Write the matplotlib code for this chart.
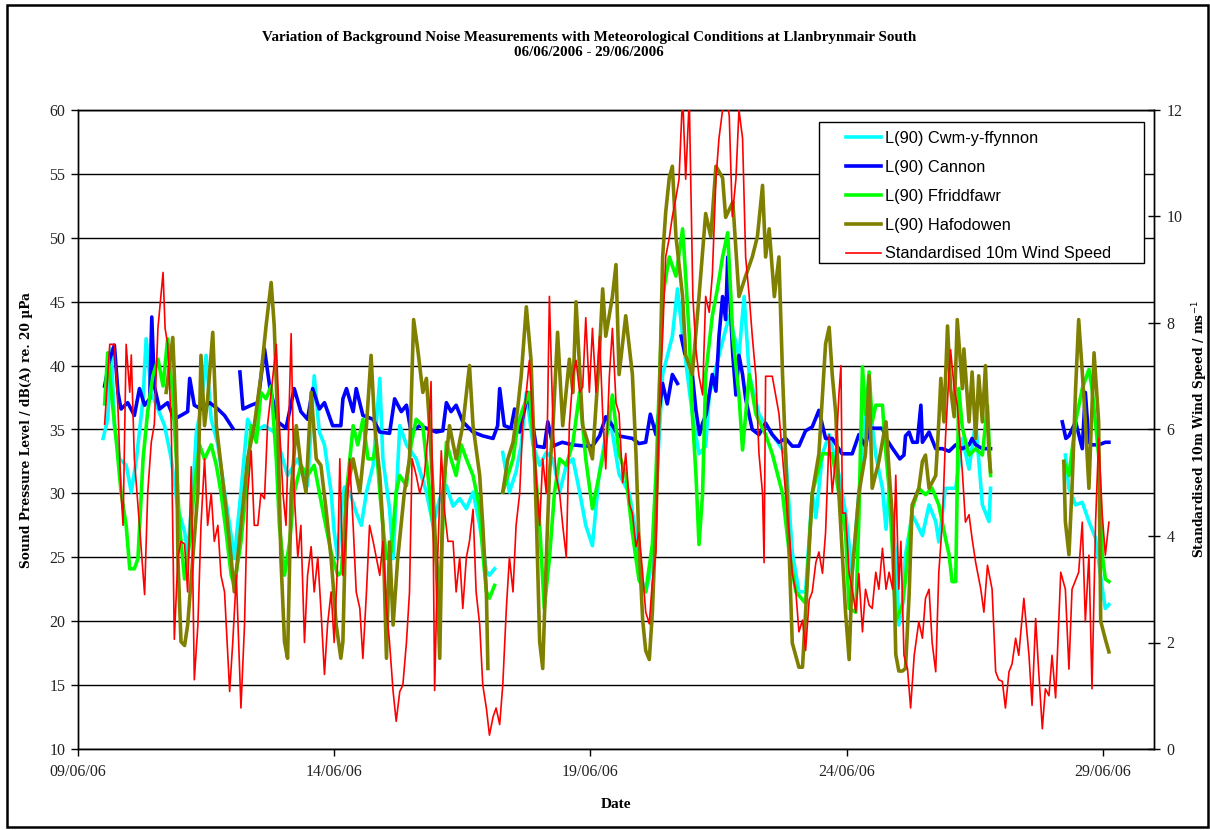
import numpy as np
import matplotlib
matplotlib.use("Agg")
import matplotlib.pyplot as plt
from matplotlib.patches import Rectangle
from matplotlib.ticker import FixedLocator, NullLocator

# ---------------------------------------------------------------------------
# Data: time in days after 09/06/06 00:00, noise in dB(A), wind in m/s.
# None marks a break in the record.
# ---------------------------------------------------------------------------
cwm_day = [0.49, 0.58, 0.65, 0.71, 0.81, 0.94, 1.04, 1.14, 1.27, 1.33, 1.43, 1.56, 1.69, 1.82, 1.95,
           2.08, 2.14, 2.24, 2.31, 2.40, 2.50, 2.60, 2.73, 2.86, 2.96, 3.05, 3.18, 3.31, 3.44, 3.64,
           3.83, 3.96, 4.09, 4.29, 4.48, 4.61, 4.71, 4.81, 4.94, 5.00, 5.07, 5.14, 5.20, 5.30, 5.43,
           5.53, 5.63, 5.76, 5.89, 5.95, 6.08, 6.15, 6.28, 6.41, 6.60, 6.80, 6.93, 7.06, 7.19, 7.32,
           7.45, 7.58, 7.71, 7.84, 7.97, 8.03, 8.13, 8.20, 8.29, 8.42, 8.55, 8.65, 8.75, 8.88, 9.01,
           9.14, 9.27, 9.40, 9.53, 9.66, 9.79, 9.91, 10.04, 10.17, 10.37, 10.56, 10.76, 10.89, 10.95,
           11.08, 11.21, 11.28, 11.41, 11.60, 11.70, 11.80, 11.99, 12.12, 12.25, 12.32, 12.51, 12.71,
           12.90, 13.00, 13.10, 13.29, 13.55, 13.81, 13.94, 14.07, 14.20, 14.33, 14.40, 14.53, 14.66,
           14.85, 14.98, 15.11, 15.24, 15.37, 15.44, 15.57, 15.70, 15.77, 15.83, 15.96, 16.02, 16.09,
           16.15, 16.28, 16.35, 16.48, 16.61, 16.74, 16.80, 16.93, 17.13, 17.26, 17.39, 17.52, 17.65,
           17.78, 17.81, 18.50, 19.27, 19.34, 19.47, 19.60, 19.73, 19.86, 19.99, 20.05, 20.12]
cwm_db = [34.3, 35.8, 41.3, 35.3, 32.7, 32.2, 30.1, 32.7, 37.4, 42.1, 37.9, 36.6, 35.3, 32.7, 28.8,
          27.0, 25.4, 30.1, 34.8, 36.6, 40.8, 35.8, 33.8, 30.1, 27.5, 24.9, 30.1, 35.8, 34.8, 35.3,
          34.8, 33.2, 31.4, 32.7, 30.6, 39.2, 34.8, 33.8, 30.1, 27.0, 24.9, 28.8, 30.5, 30.1, 28.5,
          27.5, 30.1, 32.2, 39.0, 32.7, 28.8, 24.9, 35.3, 33.8, 32.7, 30.1, 27.5, 29.6, 30.6, 29.0,
          29.6, 28.8, 30.1, 27.5, 23.9, 23.6, 24.1, None, 33.2, 30.1, 31.7, 33.8, 37.9, 33.8, 32.2,
          33.2, 32.7, 30.1, 32.2, 32.7, 30.1, 27.5, 25.9, 31.5, 36.2, 31.5, 30.0, 26.9, 23.8,
          22.3, 24.5, 30.0, 39.3, 42.3, 46.0, 42.3, 36.2, 33.1, 33.7, 37.7, 40.8, 43.9,
          40.8, 45.4, 39.3, 36.2, 34.6, 33.1, 25.4, 22.3, 22.3, 30.0, 28.1, 33.1, 34.6,
          31.5, 28.5, 23.8, 30.0, 36.2, 37.4, 33.0, 30.4, 27.2, 30.4, 25.2, 19.7, 21.3,
          25.2, 28.3, 27.8, 26.7, 29.1, 27.8, 26.2, 30.4, 30.4, 34.3, 31.9, 35.6, 29.1,
          27.8, 30.4, None, 33.0, 30.4, 29.1, 29.3, 27.8, 26.5, 22.6, 21.0, 21.3]

cannon_day = [0.52, 0.62, 0.71, 0.78, 0.84, 0.97, 1.10, 1.20, 1.30, 1.40, 1.44, 1.49, 1.59, 1.75, 1.88,
              2.01, 2.14, 2.18, 2.27, 2.40, 2.57, 2.73, 2.86, 3.02, 3.09, 3.16, 3.22, 3.38, 3.51, 3.64,
              3.74, 3.90, 4.06, 4.22, 4.35, 4.48, 4.58, 4.71, 4.81, 4.97, 5.13, 5.17, 5.24, 5.37, 5.43,
              5.56, 5.76, 5.89, 6.08, 6.18, 6.31, 6.41, 6.50, 6.67, 6.99, 7.12, 7.19, 7.28, 7.38, 7.51,
              7.71, 7.90, 8.10, 8.19, 8.23, 8.32, 8.45, 8.52, 8.62, 8.78, 8.94, 9.10, 9.17, 9.27, 9.45,
              9.65, 9.91, 10.04, 10.18, 10.30, 10.40, 10.55, 10.82, 10.95, 11.08, 11.17, 11.28, 11.41,
              11.50, 11.60, 11.70, 11.73, 11.77, 11.84, 11.90, 11.99, 12.06, 12.13, 12.19, 12.26, 12.38,
              12.45, 12.51, 12.58, 12.64, 12.68, 12.74, 12.78, 12.84, 12.90, 12.97, 13.03, 13.16, 13.29,
              13.42, 13.55, 13.68, 13.81, 13.94, 14.07, 14.20, 14.33, 14.46, 14.59, 14.72, 14.91, 15.11,
              15.24, 15.37, 15.44, 15.57, 15.70, 15.77, 15.90, 16.04, 16.12, 16.15, 16.22, 16.29, 16.38,
              16.45, 16.48, 16.61, 16.74, 16.87, 17.00, 17.13, 17.26, 17.39, 17.45, 17.52, 17.65, 17.75,
              17.81, 18.50, 19.21, 19.28, 19.34, 19.47, 19.60, 19.66, 19.73, 19.79, 19.92, 20.05, 20.12]
cannon_db = [38.4, 40.5, 41.6, 37.9, 36.6, 37.1, 36.1, 38.2, 36.9, 37.4, 43.8, 38.4, 36.6, 37.1, 35.8,
             36.1, 36.4, 39.0, 36.9, 36.6, 37.1, 36.6, 36.1, 35.1, None, 39.5, 36.6, 36.9, 37.1, 41.3,
             38.4, 35.6, 35.1, 38.2, 36.4, 35.8, 38.2, 36.6, 37.1, 35.3, 35.3, 37.4, 38.2, 36.4, 38.2,
             36.1, 35.8, 34.8, 34.7, 37.4, 36.4, 36.9, 34.8, 35.3, 34.8, 34.9, 37.1, 36.4, 36.9, 35.6,
             34.8, 34.5, 34.3, 35.3, 38.2, 35.3, 35.1, 36.6, 34.8, 37.9, 33.7, 33.6, 35.6, 33.7, 34.0,
             33.8, 33.7, 33.7, 34.5, 36.0, 35.5, 34.5, 34.3, 33.9, 34.0, 36.2, 34.6, 38.6,
             37.0, 39.3, 38.6, None, 42.3, 41.0, None, 39.3, 36.5, 34.6, 35.5, 36.2, 39.3,
             38.0, 42.3, 45.4, 43.6, 48.5, 43.9, 40.8, 37.7, 40.8, 39.3, 37.4, 35.0, 34.6,
             35.5, 34.6, 34.0, 34.3, 33.7, 33.7, 34.9, 35.2, 36.5, 34.3, 34.3, 33.1, 33.1,
             34.6, 33.7, 35.1, 35.1, 35.1, 34.3, 33.5, 32.7, 33.0, 34.5, 34.8, 34.0, 34.0,
             36.9, 34.0, 34.8, 33.5, 33.5, 33.3, 33.8, 33.5, 33.8, 34.3, 33.8, 33.5, 33.5,
             33.5, None, 35.6, 34.3, 34.5, 35.6, 33.5, 37.9, 34.0, 33.8, 33.8, 34.0, 34.0]

ffr_day = [0.52, 0.58, 0.65, 0.75, 0.84, 0.94, 1.01, 1.10, 1.17, 1.27, 1.36, 1.46, 1.56, 1.66, 1.75,
           1.85, 1.92, 1.98, 2.08, 2.18, 2.27, 2.37, 2.47, 2.60, 2.70, 2.79, 2.89, 2.99, 3.05, 3.18,
           3.25, 3.38, 3.48, 3.57, 3.67, 3.77, 3.87, 3.93, 4.03, 4.13, 4.22, 4.35, 4.48, 4.61, 4.71,
           4.81, 4.94, 5.07, 5.14, 5.24, 5.37, 5.46, 5.56, 5.66, 5.76, 5.82, 5.89, 5.95, 6.02, 6.11,
           6.21, 6.28, 6.41, 6.50, 6.60, 6.73, 6.83, 6.93, 6.99, 7.06, 7.12, 7.19, 7.28, 7.38, 7.48,
           7.58, 7.71, 7.84, 7.90, 7.97, 8.03, 8.13, 8.20, 8.29, 8.39, 8.49, 8.58, 8.68, 8.81, 8.91,
           9.01, 9.10, 9.20, 9.30, 9.40, 9.53, 9.66, 9.79, 9.91, 10.04, 10.17, 10.30, 10.43, 10.56,
           10.69, 10.82, 10.95, 11.08, 11.21, 11.28, 11.41, 11.54, 11.67, 11.80, 11.86, 11.93, 11.99,
           12.06, 12.12, 12.19, 12.25, 12.38, 12.48, 12.58, 12.68, 12.78, 12.90, 12.97, 13.10, 13.23,
           13.42, 13.55, 13.75, 13.88, 14.01, 14.20, 14.33, 14.53, 14.72, 14.85, 14.98, 15.05, 15.18,
           15.24, 15.31, 15.37, 15.44, 15.50, 15.57, 15.70, 15.77, 15.83, 15.90, 15.96, 16.09, 16.15,
           16.28, 16.41, 16.54, 16.67, 16.80, 16.93, 17.00, 17.06, 17.13, 17.19, 17.26, 17.39, 17.52,
           17.65, 17.75, 17.81, 18.50, 19.24, 19.34, 19.47, 19.60, 19.73, 19.79, 19.92, 19.99, 20.05,
           20.12]
ffr_db = [37.0, 41.0, 37.9, 34.0, 30.1, 27.5, 24.1, 24.1, 24.9, 32.7, 36.4, 39.2, 40.5, 38.4, 42.1,
          37.4, 32.7, 27.5, 23.3, 26.2, 30.4, 33.8, 32.7, 33.8, 32.2, 30.1, 27.0, 23.6, 22.8, 26.2,
          29.0, 35.3, 34.0, 37.9, 37.4, 38.4, 32.7, 27.5, 23.6, 26.2, 30.1, 32.2, 31.4, 32.2, 30.1,
          28.0, 25.4, 23.6, 23.8, 30.1, 35.3, 33.8, 35.8, 32.7, 32.7, 33.8, 30.1, 27.5, 24.9, 25.4,
          30.1, 31.4, 30.6, 33.8, 35.8, 35.3, 31.4, 27.5, 24.9, 22.3, 27.5, 34.0, 32.7, 31.4, 33.8,
          32.7, 31.4, 28.8, 25.4, 22.3, 21.8, 22.8, None, 30.1, 31.4, 32.7, 35.3, 36.6, 37.9, 32.7,
          27.5, 21.0, 24.9, 30.1, 32.7, 32.2, 34.0, 37.9, 32.7, 28.8, 31.4, 34.0, 37.7, 33.1,
          31.5, 26.9, 23.2, 22.3, 26.0, 31.5, 45.4, 48.5, 47.0, 50.7, 47.0, 42.3, 36.2,
          31.5, 26.0, 30.0, 39.3, 43.9, 46.0, 48.5, 50.4, 42.3, 37.7, 33.4, 39.3, 36.2,
          34.6, 33.1, 30.0, 25.4, 22.3, 21.4, 30.0, 33.1, 33.1, 30.0, 26.9, 21.0, 20.7,
          28.0, 39.9, 36.2, 39.5, 35.6, 36.9, 36.9, 33.0, 30.4, 25.2, 20.0, 21.3, 23.3,
          28.8, 30.4, 29.9, 30.4, 29.1, 26.5, 25.2, 23.1, 23.1, 38.2, 35.1, 33.0, 33.5,
          33.0, 36.9, 31.4, None, 32.5, 31.4, 35.6, 38.2, 39.7, 38.2, 33.0, 25.2, 23.3,
          23.1]

haf_day = [1.72, 1.85, 1.92, 1.95, 2.01, 2.08, 2.14, 2.24, 2.34, 2.40, 2.47, 2.53, 2.63, 2.70, 2.79,
           2.89, 2.99, 3.05, 3.18, 3.31, 3.44, 3.57, 3.67, 3.77, 3.83, 3.90, 3.96, 4.03, 4.09, 4.16,
           4.26, 4.35, 4.45, 4.55, 4.65, 4.74, 4.84, 4.94, 5.04, 5.13, 5.17, 5.24, 5.37, 5.50, 5.63,
           5.72, 5.79, 5.89, 5.95, 6.02, 6.08, 6.15, 6.24, 6.37, 6.47, 6.55, 6.63, 6.73, 6.80, 6.86,
           6.93, 6.99, 7.06, 7.12, 7.25, 7.38, 7.51, 7.64, 7.71, 7.84, 7.90, 7.97, 8.00, 8.15, 8.29,
           8.39, 8.49, 8.58, 8.65, 8.75, 8.84, 8.91, 8.95, 9.01, 9.07, 9.14, 9.20, 9.27, 9.36, 9.46,
           9.59, 9.66, 9.72, 9.85, 9.95, 10.04, 10.17, 10.24, 10.30, 10.43, 10.50, 10.56, 10.69,
           10.82, 10.89, 10.95, 11.02, 11.08, 11.15, 11.21, 11.28, 11.34, 11.41, 11.47, 11.54, 11.60,
           11.67, 11.80, 11.86, 11.99, 12.12, 12.25, 12.35, 12.45, 12.58, 12.64, 12.78, 12.90, 13.03,
           13.16, 13.26, 13.36, 13.42, 13.49, 13.59, 13.68, 13.75, 13.81, 13.88, 13.94, 14.07, 14.14,
           14.20, 14.33, 14.46, 14.59, 14.66, 14.72, 14.79, 14.85, 14.98, 15.05, 15.11, 15.24, 15.37,
           15.44, 15.50, 15.63, 15.77, 15.83, 15.90, 15.96, 16.02, 16.09, 16.15, 16.22, 16.28, 16.41,
           16.48, 16.54, 16.61, 16.74, 16.80, 16.84, 16.90, 16.97, 17.03, 17.10, 17.16, 17.26, 17.29,
           17.39, 17.45, 17.52, 17.58, 17.65, 17.71, 17.78, 17.81, 18.50, 19.24, 19.27, 19.34, 19.40,
           19.47, 19.53, 19.60, 19.66, 19.73, 19.83, 19.92, 19.96, 20.05, 20.12]
haf_db = [37.9, 42.2, 35.3, 24.9, 18.4, 18.1, 19.7, 24.9, 30.1, 40.8, 35.3, 37.4, 42.6, 35.3, 32.2,
          28.8, 24.9, 22.3, 27.5, 32.7, 35.3, 39.2, 43.1, 46.5, 43.1, 35.3, 24.9, 18.4, 17.1, 30.1,
          35.3, 32.2, 30.1, 37.9, 32.7, 32.2, 28.8, 24.9, 19.7, 17.1, 18.4, 30.1, 32.7, 30.1, 35.3,
          40.8, 35.3, 31.4, 27.5, 17.1, 26.2, 19.7, 24.9, 30.1, 32.7, 43.6, 41.3, 37.9, 39.0, 35.3,
          30.1, 24.9, 17.1, 30.1, 35.3, 32.7, 35.3, 40.0, 35.3, 31.4, 27.5, 22.3, 16.3, None, 30.1,
          32.7, 34.0, 36.6, 39.2, 44.6, 40.5, 32.7, 27.5, 18.4, 16.3, 24.9, 31.4, 35.3, 42.6, 35.3,
          40.5, 37.9, 45.0, 35.3, 34.0, 32.7, 40.5, 46.0, 42.3, 45.4, 47.9, 39.3, 43.9,
          39.3, 33.1, 26.0, 20.1, 17.7, 17.0, 20.7, 28.0, 36.2, 48.5, 52.0, 54.7, 55.6,
          50.1, 45.4, 40.8, 39.3, 45.4, 51.9, 50.1, 55.6, 54.7, 51.6, 52.8, 45.4, 47.0,
          48.5, 50.1, 54.1, 48.5, 50.7, 45.4, 48.5, 39.3, 33.1, 25.4, 18.3, 16.4, 16.4,
          20.7, 30.0, 33.1, 41.7, 43.0, 39.3, 36.2, 30.0, 20.7, 17.0, 23.8, 30.0, 33.1,
          39.2, 30.4, 32.5, 35.6, 31.7, 27.8, 17.4, 16.1, 16.1, 16.3, 22.0, 29.1, 30.4,
          32.5, 33.0, 30.4, 31.4, 35.6, 39.0, 35.6, 43.1, 38.2, 36.0, 43.6, 38.2, 41.3,
          35.6, 39.5, 34.3, 39.2, 35.6, 40.0, 33.0, 31.7, None, 32.5, 27.8, 25.2, 30.4,
          38.2, 43.6, 39.5, 35.6, 30.4, 41.0, 35.6, 20.0, 18.6, 17.6]

wind_day = [0.52, 0.62, 0.71, 0.78, 0.84, 0.88, 0.94, 1.01, 1.04, 1.10, 1.20, 1.30, 1.36, 1.43, 1.49,
            1.56, 1.66, 1.70, 1.75, 1.82, 1.88, 1.95, 2.01, 2.08, 2.14, 2.21, 2.27, 2.34, 2.40, 2.47,
            2.53, 2.60, 2.66, 2.73, 2.79, 2.86, 2.96, 3.02, 3.09, 3.18, 3.25, 3.31, 3.38, 3.44, 3.51,
            3.57, 3.64, 3.70, 3.77, 3.87, 3.93, 4.00, 4.06, 4.16, 4.22, 4.29, 4.35, 4.42, 4.48, 4.55,
            4.61, 4.68, 4.74, 4.81, 4.87, 4.94, 5.00, 5.07, 5.11, 5.17, 5.24, 5.30, 5.37, 5.43, 5.50,
            5.56, 5.63, 5.69, 5.76, 5.82, 5.89, 5.95, 6.02, 6.08, 6.15, 6.21, 6.28, 6.34, 6.41, 6.47,
            6.52, 6.60, 6.67, 6.76, 6.85, 6.89, 6.93, 6.96, 7.02, 7.09, 7.15, 7.22, 7.32, 7.38, 7.45,
            7.51, 7.58, 7.64, 7.71, 7.77, 7.84, 7.90, 7.97, 8.03, 8.10, 8.16, 8.23, 8.29, 8.36, 8.42,
            8.49, 8.55, 8.62, 8.68, 8.75, 8.81, 8.88, 8.94, 9.01, 9.07, 9.14, 9.20, 9.27, 9.33, 9.40,
            9.46, 9.53, 9.59, 9.66, 9.72, 9.79, 9.85, 9.91, 9.98, 10.04, 10.11, 10.18, 10.24, 10.30,
            10.37, 10.43, 10.50, 10.56, 10.63, 10.69, 10.76, 10.82, 10.89, 10.95, 11.02, 11.08, 11.15,
            11.21, 11.28, 11.34, 11.41, 11.47, 11.54, 11.60, 11.67, 11.73, 11.80, 11.86, 11.93, 12.00,
            12.06, 12.12, 12.19, 12.25, 12.32, 12.38, 12.45, 12.51, 12.58, 12.64, 12.71, 12.77, 12.84,
            12.90, 12.97, 13.03, 13.10, 13.16, 13.23, 13.29, 13.36, 13.39, 13.42, 13.55, 13.68, 13.81,
            13.88, 13.94, 14.01, 14.07, 14.14, 14.20, 14.27, 14.33, 14.40, 14.46, 14.53, 14.59, 14.66,
            14.72, 14.79, 14.85, 14.89, 14.92, 14.98, 15.05, 15.11, 15.18, 15.24, 15.31, 15.37, 15.44,
            15.50, 15.57, 15.63, 15.70, 15.77, 15.83, 15.90, 15.96, 16.02, 16.06, 16.12, 16.19, 16.25,
            16.32, 16.41, 16.48, 16.54, 16.61, 16.67, 16.74, 16.80, 16.87, 16.93, 17.00, 17.03, 17.10,
            17.16, 17.26, 17.32, 17.39, 17.45, 17.52, 17.62, 17.68, 17.75, 17.84, 17.91, 17.97, 18.04,
            18.10, 18.17, 18.23, 18.30, 18.36, 18.46, 18.56, 18.62, 18.69, 18.75, 18.82, 18.88, 18.95,
            19.01, 19.08, 19.18, 19.27, 19.34, 19.40, 19.53, 19.60, 19.66, 19.73, 19.79, 19.86, 19.92,
            19.99, 20.05, 20.12]
wind_ms = [6.1, 7.6, 7.6, 6.4, 4.8, 4.2, 7.6, 6.7, 7.4, 5.45, 4.2, 2.9, 4.8, 5.76, 6.1,
           7.9, 8.95, 7.9, 7.6, 6.1, 2.06, 3.6, 3.9, 3.85, 2.95, 5.3, 1.3, 2.33, 4.2, 5.45,
           4.2, 4.8, 3.9, 4.2, 3.26, 2.95, 1.08, 2.0, 3.26, 0.77, 2.33, 4.8, 5.6, 4.2, 4.2,
           4.8, 4.7, 6.1, 6.7, 7.6, 6.1, 4.8, 4.2, 7.8, 4.8, 3.6, 4.2, 2.0, 3.26, 3.8,
           2.95, 3.6, 2.64, 1.4, 2.33, 2.95, 2.0, 3.6, 5.45, 3.26, 4.2, 5.45, 4.2, 2.95, 2.64,
           1.7, 2.95, 4.2, 3.9, 3.6, 3.26, 3.9, 2.64, 2.0, 1.08, 0.52, 1.08, 1.2, 2.0, 2.95,
           5.45, 5.14, 4.8, 5.14, 6.1, 6.9, 4.2, 1.1, 3.6, 5.6, 4.5, 3.9, 3.9, 2.95, 3.6,
           2.64, 3.6, 3.9, 4.5, 2.95, 2.33, 1.2, 0.77, 0.26, 0.6, 0.77, 0.46, 1.2, 2.64, 3.6,
           2.95, 4.2, 4.8, 6.1, 6.7, 7.3, 6.1, 5.14, 4.2, 5.45, 4.8, 8.5, 6.1, 5.14, 4.8,
           4.2, 3.6, 6.1, 7.0, 7.3, 6.7, 6.8, 8.1, 6.7, 7.9, 6.7, 7.75, 6.3, 5.26,
           7.0, 7.9, 6.5, 6.3, 5.0, 5.55, 4.6, 4.43, 3.8, 4.06, 3.3, 2.57, 2.35,
           3.16, 3.7, 6.3, 7.75, 9.24, 9.6, 10.0, 10.35, 10.7, 12.3, 10.7, 12.2, 8.5,
           7.5, 7.0, 6.65, 8.5, 8.2, 8.9, 10.7, 11.47, 12.0, 12.3, 11.9, 10.0, 10.7,
           12.0, 11.47, 9.24, 8.5, 7.75, 7.0, 5.55, 4.8, 3.5, 7.0, 7.0, 6.3, 4.8,
           4.06, 3.3, 2.95, 2.2, 2.42, 1.85, 2.8, 2.95, 3.5, 3.7, 3.3, 4.06, 5.9,
           4.8, 5.5, 6.65, 7.2, 4.43, 4.43, 3.3, 3.0, 2.57, 3.3, 2.2, 3.0, 2.7,
           2.64, 3.32, 3.0, 3.77, 3.0, 3.32, 3.0, 5.14, 3.0, 3.9, 1.76, 1.5, 0.77,
           1.76, 2.39, 2.08, 2.83, 3.0, 2.0, 1.45, 3.32, 4.26, 5.83, 7.08, 7.5, 6.77,
           6.46, 5.2, 4.26, 4.4, 3.95, 3.5, 3.0, 2.57, 3.45, 3.0, 1.45, 1.3, 1.27,
           0.77, 1.45, 1.6, 2.08, 1.76, 2.83, 1.76, 0.82, 2.45, 1.45, 0.38, 1.13, 1.0,
           1.76, 0.96, 3.32, 3.0, 1.5, 3.0, 3.32, 4.26, 2.39, 3.64, 1.13, 4.26, 5.83,
           4.4, 3.64, 4.26]

series_names = ["L(90) Cwm-y-ffynnon", "L(90) Cannon", "L(90) Ffriddfawr",
                "L(90) Hafodowen", "Standardised 10m Wind Speed"]
date_ticks = [0, 5, 10, 15, 20]
date_labels = ["09/06/06", "14/06/06", "19/06/06", "24/06/06", "29/06/06"]
db_ticks = [10, 15, 20, 25, 30, 35, 40, 45, 50, 55, 60]
wind_ticks = [0, 2, 4, 6, 8, 10, 12]

title_text = ("Variation of Background Noise Measurements with Meteorological Conditions at Llanbrynmair South\n"
              "06/06/2006 - 29/06/2006")


def as_array(vals):
    return np.array([np.nan if v is None else v for v in vals], dtype=float)


# ---------------------------------------------------------------------------
# Figure
# ---------------------------------------------------------------------------
SERIF = ["Liberation Serif", "DejaVu Serif"]
WIDE_SERIF = ["DejaVu Serif"]
SANS = ["Liberation Sans", "DejaVu Sans"]

fig = plt.figure(figsize=(12.10, 8.30), dpi=100)
fig.patch.set_facecolor("white")

W, H = 1210.0, 830.0
left_px, right_px, top_px, bottom_px = 78, 1154, 110, 749
ax_w, ax_h = right_px - left_px, bottom_px - top_px
ax = fig.add_axes([left_px / W, 1 - bottom_px / H, ax_w / W, ax_h / H])
ax2 = ax.twinx()

colors = ["#00FFFF", "#0000FF", "#00FF00", "#808000", "#FF0000"]
noise = [(cwm_day, cwm_db), (cannon_day, cannon_db), (ffr_day, ffr_db), (haf_day, haf_db)]
NOISE_LW, WIND_LW = 2.6, 1.2

handles = []
for (d, v), c, name in zip(noise, colors[:4], series_names[:4]):
    h, = ax.plot(as_array(d), as_array(v), color=c, lw=NOISE_LW, label=name,
                 solid_joinstyle="round", zorder=3)
    handles.append(h)

hw, = ax2.plot(as_array(wind_day), as_array(wind_ms), color=colors[4], lw=WIND_LW,
               label=series_names[4], zorder=3)
handles.append(hw)

# Primary axis (sound level)
ax.set_xlim(0, 21)
ax.set_ylim(10, 60)
ax.yaxis.set_major_locator(FixedLocator(db_ticks))
ax.set_yticklabels([str(t) for t in db_ticks], fontfamily=SERIF, fontsize=11.5)
ax.xaxis.set_major_locator(FixedLocator(date_ticks))
ax.xaxis.set_minor_locator(NullLocator())
ax.set_xticklabels(date_labels, fontfamily=SERIF, fontsize=11.5)
ax.grid(axis="y", color="black", lw=1.0, zorder=0)
ax.set_axisbelow(True)
ax.tick_params(axis="both", direction="out", length=5, width=1, color="black",
               labelcolor="#222222", pad=4)
ax.tick_params(axis="x", length=5, pad=6)

# Secondary axis (wind speed)
ax2.set_ylim(0, 12)
ax2.yaxis.set_major_locator(FixedLocator(wind_ticks))
ax2.set_yticklabels([str(t) for t in wind_ticks], fontfamily=SERIF, fontsize=11.5)
ax2.tick_params(axis="y", direction="inout", length=8, width=1, color="black",
                labelcolor="#222222", pad=5)

for a in (ax, ax2):
    for s in a.spines.values():
        s.set_color("black")
        s.set_linewidth(1.0)

ax.set_xlabel("Date", fontfamily=SERIF, fontsize=11, fontweight="bold", labelpad=13)
ax.set_ylabel("Sound Pressure Level / dB(A) re. 20 \u00b5Pa", fontfamily=WIDE_SERIF,
              fontsize=8.8, fontweight="bold")
ax.yaxis.set_label_coords(-0.042, 0.5)
ax2.set_ylabel("Standardised 10m Wind Speed / ms$^{-1}$", fontfamily=WIDE_SERIF,
               fontsize=8.8, fontweight="bold", rotation=90)
ax2.yaxis.set_label_coords(1.034, 0.5)

# Legend: framed box drawn as a patch, entries placed inside it
box = Rectangle(((819 - left_px) / ax_w, (bottom_px - 263) / ax_h), 325 / ax_w, 141 / ax_h,
                transform=ax2.transAxes, facecolor="white", edgecolor="black", lw=1.0,
                zorder=8, clip_on=False)
ax2.add_patch(box)
leg = ax2.legend(handles=handles, loc="upper left",
                 bbox_to_anchor=((846 - left_px) / ax_w, (bottom_px - 131) / ax_h),
                 prop={"family": SANS, "size": 11.8}, frameon=False,
                 handlelength=2.15, handletextpad=0.25, labelspacing=0.845,
                 borderpad=0.0, borderaxespad=0.0)
leg.set_zorder(10)
for line, c in zip(leg.get_lines(), colors):
    line.set_linewidth(WIND_LW if c == colors[4] else NOISE_LW)

fig.text(589 / W, 1 - 45 / H, title_text, ha="center", va="center",
         fontfamily=SERIF, fontsize=10.8, fontweight="bold", linespacing=1.3)

# Outer chart border
fig.patches.append(Rectangle((7 / W, 3 / H), 1201 / W, 822 / H, transform=fig.transFigure,
                             fill=False, edgecolor="black", lw=1.8))

fig.savefig("out.png", dpi=100, facecolor="white")
